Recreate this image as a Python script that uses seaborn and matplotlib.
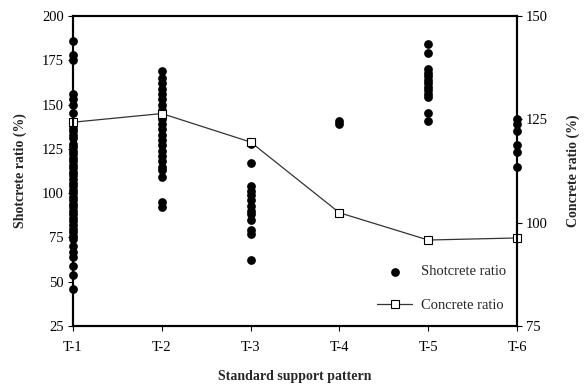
import numpy as np
import pandas as pd
import matplotlib
matplotlib.use("Agg")
import matplotlib.pyplot as plt
import seaborn as sns

# Support pattern categories
categories = ["T-1", "T-2", "T-3", "T-4", "T-5", "T-6"]

# Shotcrete ratio (%) observed for each support pattern
shotcrete_t1 = [186, 178, 175, 156, 153, 150, 145, 140, 137, 135, 133, 131, 128,
                126, 124, 122, 120, 118, 116, 114, 112, 110, 108, 106, 104, 102,
                100, 98, 96, 94, 92, 90, 88, 86, 84, 82, 80, 78, 76, 74, 70, 67,
                64, 59, 54, 46]
shotcrete_t2 = [169, 165, 162, 159, 156, 153, 150, 147, 145, 142, 139, 136, 133,
                130, 127, 124, 121, 118, 115, 113, 109, 95, 92]
shotcrete_t3 = [128, 117, 104, 101, 99, 96, 93, 90, 88, 85, 79, 77, 62]
shotcrete_t4 = [141, 139]
shotcrete_t5 = [184, 179, 170, 168, 166, 164, 162, 160, 158, 156, 154, 145, 141]
shotcrete_t6 = [142, 139, 135, 127, 123, 115]

# Concrete ratio (%) per support pattern
concrete_ratio = [124.3, 126.4, 119.5, 102.4, 95.8, 96.3]

shotcrete_groups = [shotcrete_t1, shotcrete_t2, shotcrete_t3,
                    shotcrete_t4, shotcrete_t5, shotcrete_t6]
shot_df = pd.DataFrame({
    "pattern": [c for c, g in zip(categories, shotcrete_groups) for _ in g],
    "ratio": [v for g in shotcrete_groups for v in g],
})
conc_df = pd.DataFrame({"pos": np.arange(len(categories)), "ratio": concrete_ratio})

sns.set_theme(style="white")
plt.rcParams["font.family"] = ["Liberation Serif", "DejaVu Serif"]
plt.rcParams["axes.edgecolor"] = "black"
plt.rcParams["axes.linewidth"] = 1.5

fig = plt.figure(figsize=(5.88, 3.85), dpi=100)
ax = fig.add_axes([73 / 588, 1 - 326 / 385, (517 - 73) / 588, (326 - 16) / 385])

sns.stripplot(data=shot_df, x="pattern", y="ratio", order=categories,
              jitter=False, color="black", size=6.3, linewidth=0, ax=ax)
for coll in ax.collections:
    coll.set_clip_on(False)

ax.set_xlim(0, len(categories) - 1)
ax.set_ylim(25, 200)
ax.set_yticks(np.arange(25, 201, 25))
ax.set_xticks(np.arange(len(categories)))
ax.set_xticklabels(categories)
ax.set_xlabel("Standard support pattern", fontsize=10, fontweight="bold", labelpad=12)
ax.set_ylabel("Shotcrete ratio (%)", fontsize=10, fontweight="bold", labelpad=10.5)
ax.tick_params(axis="both", which="both", direction="out", length=3.5, width=0.8,
               colors="black", labelsize=10.5)
ax.tick_params(axis="x", pad=7)
ax.tick_params(axis="y", pad=3, left=True, right=False)
ax.tick_params(axis="x", bottom=True, top=False)

ax2 = ax.twinx()
sns.lineplot(data=conc_df, x="pos", y="ratio", ax=ax2, color="#333333",
             linewidth=0.9, marker="s", markersize=5.5, markerfacecolor="white",
             markeredgecolor="black", markeredgewidth=0.8, clip_on=False,
             label="Concrete ratio")
ax2.set_ylim(75, 150)
ax2.set_yticks(np.arange(75, 151, 25))
ax2.set_xlim(0, len(categories) - 1)
ax2.set_ylabel("Concrete ratio (%)", fontsize=10, fontweight="bold", labelpad=13)
ax2.tick_params(axis="y", direction="out", length=3.5, width=0.8, colors="black",
                labelsize=10.5, pad=3, right=True)
for sp in ax2.spines.values():
    sp.set_linewidth(1.5)
    sp.set_color("black")

shot_handle = ax.collections[0]
line_handle = ax2.get_lines()[0]
leg = ax2.legend([shot_handle, line_handle], ["Shotcrete ratio", "Concrete ratio"],
                 loc="lower right", bbox_to_anchor=(0.989, 0.026), borderaxespad=0,
                 frameon=False, fontsize=10.5, handlelength=2.4, handletextpad=0.6,
                 labelspacing=1.4)

fig.savefig("out.png", dpi=100)
